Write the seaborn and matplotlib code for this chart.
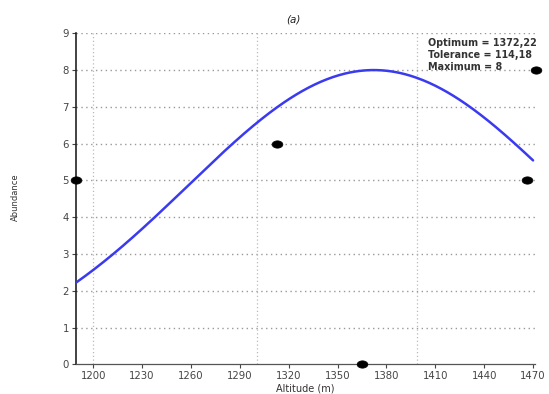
import numpy as np
import pandas as pd
import matplotlib
matplotlib.use("Agg")
import matplotlib.pyplot as plt
from matplotlib.path import Path
import seaborn as sns

# Observed points
altitude = [1189.5, 1312.6, 1364.8, 1466.1, 1471.8]
abundance = [5, 6, 0, 5, 8]

# Gaussian response parameters (from annotation)
optimum = 1372.22
tolerance = 114.18
maximum = 8

x_ticks = [1200, 1230, 1260, 1290, 1320, 1350, 1380, 1410, 1440, 1470]
x_labels = ["1200", "1230", "1260", "1290", "1320", "1350", "1380", "1410", "1440", "1470"]
y_ticks = [0, 1, 2, 3, 4, 5, 6, 7, 8, 9]
v_grid = [1200, 1300.5, 1399]

sns.set_style("white")
plt.rcParams['font.family'] = ['DejaVu Sans']

fig = plt.figure(figsize=(5.49, 3.94), dpi=100)
ax = fig.add_axes([0.1384, 0.0754, 0.8361, 0.8401])

xs = np.linspace(1189.5, 1470, 300)
curve = pd.DataFrame({"x": xs, "y": maximum * np.exp(-(xs - optimum) ** 2 / (2 * tolerance ** 2))})
pts = pd.DataFrame({"x": altitude, "y": abundance})

for yv in y_ticks[1:]:
    ax.axhline(yv, color="#999999", lw=1.0, ls=(0, (1, 2.5)), zorder=0)
for xv in v_grid:
    ax.axvline(xv, color="#bbbbbb", lw=0.9, ls=(0, (1, 2)), zorder=0)

t = np.linspace(0, 2 * np.pi, 40)
ell = Path(np.column_stack([1.0 * np.cos(t), 0.68 * np.sin(t)]), closed=True)

sns.lineplot(data=curve, x="x", y="y", ax=ax, color="#3a3af0", lw=1.8, zorder=3)
sns.scatterplot(data=pts, x="x", y="y", ax=ax, color="black", s=60, marker=ell,
                edgecolor="black", linewidth=0.5, zorder=4, clip_on=False)

ax.set_xlim(1189.4, 1471.2)
ax.set_ylim(0, 9)
ax.set_xticks(x_ticks)
ax.set_xticklabels(x_labels)
ax.set_yticks(y_ticks)
ax.tick_params(axis="both", which="both", direction="out", length=3, width=0.8,
               labelsize=7.3, colors="#444444", pad=2, bottom=True, left=True)
for s in ["top", "right"]:
    ax.spines[s].set_visible(False)
ax.spines["left"].set_color("#222222")
ax.spines["left"].set_linewidth(1.2)
ax.spines["bottom"].set_color("#555555")
ax.spines["bottom"].set_linewidth(0.9)

ax.set_xlabel("Altitude (m)", fontsize=7, color="#333333", labelpad=1.5)
ax.set_ylabel("")
fig.text(0.028, 1 - 197 / 394, "Abundance", rotation=90, fontsize=6, color="#333333",
         ha="center", va="center")
fig.text(293 / 549, 1 - 20 / 394, "(a)", fontsize=7.5, color="#222222",
         ha="center", va="center", style="italic")

ax.text(0.767, 0.985, f"Optimum = {str(optimum).replace('.', ',')}\n"
        f"Tolerance = {str(tolerance).replace('.', ',')}\nMaximum = {maximum}",
        transform=ax.transAxes, fontsize=6.9, color="#333333", va="top", ha="left",
        fontweight="semibold", linespacing=1.25)

fig.savefig("out.png", dpi=100)
